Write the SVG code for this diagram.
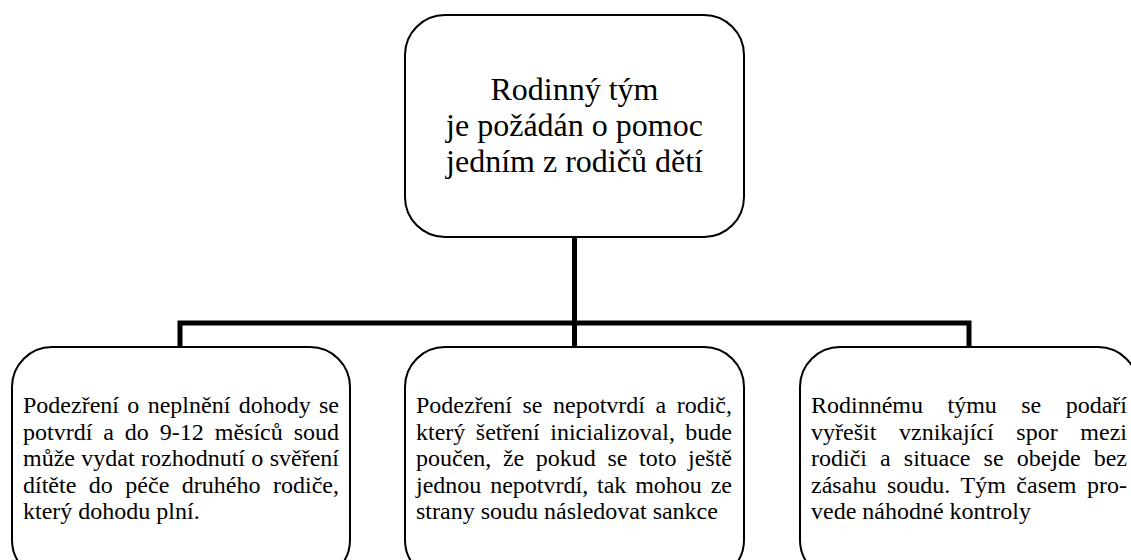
<svg xmlns="http://www.w3.org/2000/svg" width="1131" height="560" viewBox="0 0 1131 560">
<style>
.box{fill:#fff;stroke:#000;stroke-width:2}
.conn{fill:none;stroke:#000;stroke-width:5;stroke-linejoin:miter;stroke-linecap:butt}
.big{font-size:32px;text-anchor:middle}
.sm{font-size:24px}
</style>
<rect width="1131" height="560" fill="#fff"/>
<g id="connectors">
<path class="conn" d="M574.5 237 V347"/>
<path class="conn" d="M180 347 V323 H969 V347"/>
</g>
<g id="top" font-family="Liberation Serif" fill="#000">
<rect class="box" x="405" y="15" width="339" height="222" rx="40" ry="40"/>
<text class="big" x="574.5" y="100" font-family="Liberation Serif">Rodinný tým</text>
<text class="big" x="574.5" y="136" font-family="Liberation Serif">je požádán o pomoc</text>
<text class="big" x="574.5" y="172" font-family="Liberation Serif">jedním z rodičů dětí</text>
</g>
<g id="left" font-family="Liberation Serif" fill="#000">
<rect class="box" x="12" y="347" width="338" height="233" rx="40" ry="40"/>
<text class="sm" x="23" y="413" font-family="Liberation Serif" word-spacing="2.35" textLength="316" lengthAdjust="spacing">Podezření o neplnění dohody se</text>
<text class="sm" x="23" y="439.5" font-family="Liberation Serif" word-spacing="4.94" textLength="316" lengthAdjust="spacing">potvrdí a do 9-12 měsíců soud</text>
<text class="sm" x="23" y="466" font-family="Liberation Serif" word-spacing="0.35" textLength="316" lengthAdjust="spacing">může vydat rozhodnutí o svěření</text>
<text class="sm" x="23" y="492.5" font-family="Liberation Serif" word-spacing="6.5" textLength="316" lengthAdjust="spacing">dítěte do péče druhého rodiče,</text>
<text class="sm" x="23" y="519" font-family="Liberation Serif">který dohodu plní.</text>
</g>
<g id="middle" font-family="Liberation Serif" fill="#000">
<rect class="box" x="405" y="347" width="339" height="233" rx="40" ry="40"/>
<text class="sm" x="416" y="413" font-family="Liberation Serif" word-spacing="4.5" textLength="316" lengthAdjust="spacing">Podezření se nepotvrdí a rodič,</text>
<text class="sm" x="416" y="439.5" font-family="Liberation Serif" word-spacing="4.46" textLength="316" lengthAdjust="spacing">který šetření inicializoval, bude</text>
<text class="sm" x="416" y="466" font-family="Liberation Serif" word-spacing="5.6" textLength="316" lengthAdjust="spacing">poučen, že pokud se toto ještě</text>
<text class="sm" x="416" y="492.5" font-family="Liberation Serif" word-spacing="2.84" textLength="316" lengthAdjust="spacing">jednou nepotvrdí, tak mohou ze</text>
<text class="sm" x="416" y="519" font-family="Liberation Serif">strany soudu následovat sankce</text>
</g>
<g id="right" font-family="Liberation Serif" fill="#000">
<rect class="box" x="800" y="347" width="338" height="233" rx="40" ry="40"/>
<text class="sm" x="811" y="413" font-family="Liberation Serif" word-spacing="18.4" textLength="316" lengthAdjust="spacing">Rodinnému týmu se podaří</text>
<text class="sm" x="811" y="439.5" font-family="Liberation Serif" word-spacing="16.7" textLength="316" lengthAdjust="spacing">vyřešit vznikající spor mezi</text>
<text class="sm" x="811" y="466" font-family="Liberation Serif" word-spacing="7.1" textLength="316" lengthAdjust="spacing">rodiči a situace se obejde bez</text>
<text class="sm" x="811" y="492.5" font-family="Liberation Serif" word-spacing="4.5" textLength="316" lengthAdjust="spacing">zásahu soudu. Tým časem pro-</text>
<text class="sm" x="811" y="519" font-family="Liberation Serif">vede náhodné kontroly</text>
</g>
</svg>
